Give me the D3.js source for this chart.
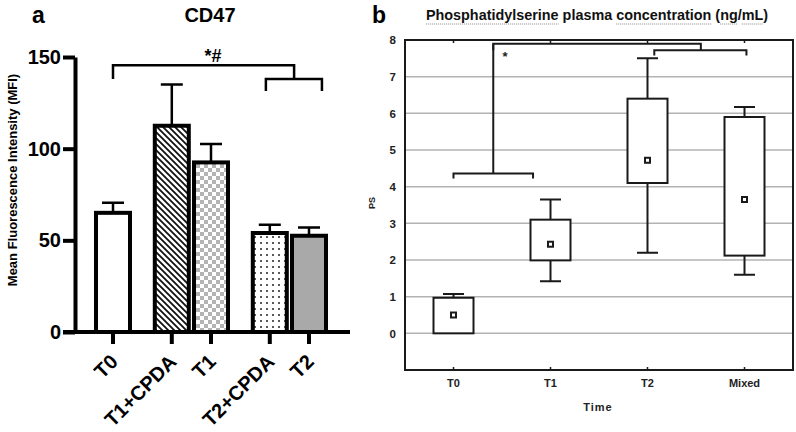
<!DOCTYPE html>
<html>
<head>
<meta charset="utf-8">
<script src="https://cdn.jsdelivr.net/npm/d3@7"></script>
<style>
  body { margin: 0; background: #fff; }
  svg { display: block; }
  text { font-family: "Liberation Sans", Arial, sans-serif; }
</style>
</head>
<body>
<script>
// panel a: CD47 bar chart
var barCats = ["T0", "T1+CPDA", "T1", "T2+CPDA", "T2"];
var barSlots = [0, 1.5, 2.5, 4, 5]; // grouped spacing along x
var barMeans = [65, 112.5, 92.5, 54, 52.5];
var barErr = [70.5, 135, 102.5, 58.5, 57];
var barFills = ["white", "url(#hatch)", "url(#checker)", "url(#dots)", "#a9a9a9"];
var barTicks = [0, 50, 100, 150];

// panel a significance brackets: [slotFrom, slotTo, level, dropTo]
var barBrackets = [[0, 4.62, 145.5, 138], [3.9, 5.33, 138, 131.5]];

// panel b: PS box plot
var boxCats = ["T0", "T1", "T2", "Mixed"];
var boxMin = [0, 1.42, 2.2, 1.6];
var boxQ1 = [0, 1.99, 4.1, 2.12];
var boxMean = [0.5, 2.43, 4.72, 3.65];
var boxQ3 = [0.97, 3.1, 6.4, 5.9];
var boxMax = [1.07, 3.65, 7.5, 6.17];
var psTicks = [0, 1, 2, 3, 4, 5, 6, 7, 8];

// panel b brackets in category index units: [from, to, level, dropTo]
var boxBrackets = [[0, 0.82, 4.36, 4.22], [0.41, 2.55, 7.9, 7.72], [2.07, 3.02, 7.72, 7.58]];

var width = 796, height = 432;

var svg = d3.select("body")
    .append("svg")
    .attr("width", width)
    .attr("height", height);

//patterns for the bars
var defs = svg.append("defs");
var hatch = defs.append("pattern")
    .attr("id", "hatch")
    .attr("patternUnits", "userSpaceOnUse")
    .attr("width", 6).attr("height", 6);
hatch.append("rect").attr("width", 6).attr("height", 6).attr("fill", "white");
hatch.append("path")
    .attr("d", "M-1,-1 L7,7 M-1,5 L1,7 M5,-1 L7,1")
    .attr("stroke", "#111").attr("stroke-width", 1.8);

var checker = defs.append("pattern")
    .attr("id", "checker")
    .attr("patternUnits", "userSpaceOnUse")
    .attr("width", 8).attr("height", 8);
checker.append("rect").attr("width", 8).attr("height", 8).attr("fill", "white");
checker.append("rect").attr("width", 4).attr("height", 4).attr("fill", "#b4b4b4");
checker.append("rect").attr("x", 4).attr("y", 4).attr("width", 4).attr("height", 4).attr("fill", "#b4b4b4");

var dots = defs.append("pattern")
    .attr("id", "dots")
    .attr("patternUnits", "userSpaceOnUse")
    .attr("width", 6).attr("height", 6);
dots.append("rect").attr("width", 6).attr("height", 6).attr("fill", "white");
dots.append("circle").attr("cx", 3).attr("cy", 3).attr("r", 1).attr("fill", "#222");

// ---------- panel a ----------
var ga = svg.append("g").attr("class", "panelA");

var yA = d3.scaleLinear().domain([0, 150]).range([332, 57]);
var xA = d3.scaleLinear().domain([0, 5]).range([113, 309]);
var barW = 34;

ga.append("text")
    .attr("x", 32).attr("y", 23)
    .attr("font-size", 23).attr("font-weight", "bold")
    .text("a");

ga.append("text")
    .attr("x", 210).attr("y", 22)
    .attr("text-anchor", "middle")
    .attr("font-size", 20).attr("font-weight", "bold")
    .text("CD47");

ga.selectAll(".bar")
    .data(barMeans)
    .enter()
    .append("rect")
    .attr("class", "bar")
    .attr("x", function(d, i){ return xA(barSlots[i]) - barW / 2; })
    .attr("y", function(d){ return yA(d); })
    .attr("width", barW)
    .attr("height", function(d){ return yA(0) - yA(d); })
    .attr("fill", function(d, i){ return barFills[i]; })
    .attr("stroke", "black")
    .attr("stroke-width", 4);

//upper error whiskers
ga.selectAll(".err")
    .data(barErr)
    .enter()
    .append("path")
    .attr("class", "err")
    .attr("d", function(d, i){
        var x = xA(barSlots[i]);
        return "M" + x + "," + yA(barMeans[i]) + "V" + yA(d) + "M" + (x - 11) + "," + yA(d) + "H" + (x + 11);
    })
    .attr("fill", "none")
    .attr("stroke", "black")
    .attr("stroke-width", 2.5);

var yAxisA = ga.append("g")
    .attr("transform", "translate(75,0)")
    .call(d3.axisLeft(yA).tickValues(barTicks).tickSize(12).tickSizeOuter(0).tickPadding(2));
yAxisA.selectAll("path, line").attr("stroke", "black").attr("stroke-width", 4);
yAxisA.selectAll("text")
    .attr("font-size", 20).attr("font-weight", "bold")
    .attr("font-family", "Liberation Sans, Arial, sans-serif")
    .attr("fill", "black");

//x axis line runs a tick length left of the y axis
ga.append("line")
    .attr("x1", 63).attr("x2", 350)
    .attr("y1", yA(0)).attr("y2", yA(0))
    .attr("stroke", "black").attr("stroke-width", 4);

ga.selectAll(".xtick")
    .data(barSlots)
    .enter()
    .append("line")
    .attr("class", "xtick")
    .attr("x1", function(d){ return xA(d); })
    .attr("x2", function(d){ return xA(d); })
    .attr("y1", yA(0)).attr("y2", yA(0) + 12)
    .attr("stroke", "black").attr("stroke-width", 4);

ga.selectAll(".xlab")
    .data(barCats)
    .enter()
    .append("text")
    .attr("class", "xlab")
    .attr("text-anchor", "end")
    .attr("font-size", 20).attr("font-weight", "bold")
    .attr("transform", function(d, i){
        return "translate(" + (xA(barSlots[i]) + 6) + "," + (yA(0) + 31) + ") rotate(-45)";
    })
    .text(function(d){ return d; });

ga.append("text")
    .attr("transform", "translate(17,180) rotate(-90)")
    .attr("text-anchor", "middle")
    .attr("font-size", 13).attr("font-weight", "bold")
    .text("Mean Fluorescence Intensity (MFI)");

ga.selectAll(".brk")
    .data(barBrackets)
    .enter()
    .append("path")
    .attr("class", "brk")
    .attr("d", function(d){
        return "M" + xA(d[0]) + "," + yA(d[3]) + "V" + yA(d[2]) + "H" + xA(d[1]) + "V" + yA(d[3]);
    })
    .attr("fill", "none")
    .attr("stroke", "black")
    .attr("stroke-width", 2.5);

ga.append("text")
    .attr("x", xA(2.55)).attr("y", 62)
    .attr("text-anchor", "middle")
    .attr("font-size", 18).attr("font-weight", "bold")
    .text("*#");

// ---------- panel b ----------
var gb = svg.append("g").attr("class", "panelB");

var bLeft = 405, bRight = 793, bTop = 40, bBottom = 370;
var yB = d3.scaleLinear().domain([-1, 8]).range([bBottom, bTop]);
var xB = d3.scaleBand().domain(boxCats).range([bLeft, bRight]).padding(0);
var xIdx = d3.scaleLinear().domain([0, 1]).range([xB(boxCats[0]) + xB.bandwidth() / 2, xB(boxCats[1]) + xB.bandwidth() / 2]);
var boxW = 40, capW = 21;
var ink = "#1a1a1a";

gb.append("text")
    .attr("x", 372).attr("y", 23)
    .attr("font-size", 23).attr("font-weight", "bold")
    .text("b");

var tStr = "Phosphatidylserine plasma concentration (ng/mL)";
var title = gb.append("text")
    .attr("x", 597).attr("y", 20)
    .attr("text-anchor", "middle")
    .attr("font-family", "Lato, 'Open Sans', sans-serif")
    .attr("font-size", 14.4).attr("font-weight", "bold")
    .attr("fill", "#111")
    .text(tStr);

//dotted spell-check style underlines
var tNode = title.node();
["Phosphatidylserine", "concentration", "ng", "mL"].forEach(function(w){
    var idx = tStr.indexOf(w);
    var x0 = tNode.getStartPositionOfChar(idx).x;
    var x1 = x0 + tNode.getSubStringLength(idx, w.length);
    gb.append("line")
        .attr("x1", x0).attr("x2", x1)
        .attr("y1", 24).attr("y2", 24)
        .attr("stroke", "#8a8a8a").attr("stroke-width", 1)
        .attr("stroke-dasharray", "1,1");
});

gb.selectAll(".grid")
    .data(psTicks.slice(0, -1))
    .enter()
    .append("line")
    .attr("class", "grid")
    .attr("x1", bLeft).attr("x2", bRight)
    .attr("y1", function(d){ return yB(d); })
    .attr("y2", function(d){ return yB(d); })
    .attr("stroke", "#b3b3b3").attr("stroke-width", 1.5);

gb.append("rect")
    .attr("x", bLeft).attr("y", bTop)
    .attr("width", bRight - bLeft).attr("height", bBottom - bTop)
    .attr("fill", "none")
    .attr("stroke", ink).attr("stroke-width", 2);

//small inner ticks top and bottom
boxCats.forEach(function(c){
    var cx = xB(c) + xB.bandwidth() / 2;
    gb.append("path")
        .attr("d", "M" + cx + "," + bTop + "v3M" + cx + "," + bBottom + "v-3")
        .attr("stroke", ink).attr("stroke-width", 1.5);
});

var yAxisB = gb.append("g")
    .attr("transform", "translate(" + bLeft + ",0)")
    .call(d3.axisLeft(yB).tickValues(psTicks).tickSize(0).tickPadding(9));
yAxisB.select(".domain").remove();
yAxisB.selectAll("text")
    .attr("font-size", 11.5).attr("font-weight", "bold")
    .attr("font-family", "Liberation Sans, Arial, sans-serif")
    .attr("fill", "#222");

var xAxisB = gb.append("g")
    .attr("transform", "translate(0," + bBottom + ")")
    .call(d3.axisBottom(xB).tickSize(0).tickPadding(9));
xAxisB.select(".domain").remove();
xAxisB.selectAll("text")
    .attr("font-size", 11).attr("font-weight", "bold")
    .attr("font-family", "Liberation Sans, Arial, sans-serif")
    .attr("fill", "#222");

gb.append("text")
    .attr("x", 598).attr("y", 411)
    .attr("text-anchor", "middle")
    .attr("font-size", 11).attr("font-weight", "bold")
    .attr("letter-spacing", 1)
    .attr("fill", "#222")
    .text("Time");

gb.append("text")
    .attr("transform", "translate(375,203) rotate(-90)")
    .attr("text-anchor", "middle")
    .attr("font-size", 9).attr("font-weight", "bold")
    .attr("fill", "#222")
    .text("PS");

//boxes with whiskers and mean markers
var boxes = gb.selectAll(".box")
    .data(boxCats)
    .enter()
    .append("g")
    .attr("class", "box")
    .attr("transform", function(d){ return "translate(" + (xB(d) + xB.bandwidth() / 2) + ",0)"; });

boxes.append("path")
    .attr("d", function(d, i){
        return "M0," + yB(boxMax[i]) + "V" + yB(boxMin[i]) +
            "M" + (-capW / 2) + "," + yB(boxMax[i]) + "H" + (capW / 2) +
            (boxMin[i] < boxQ1[i] ? "M" + (-capW / 2) + "," + yB(boxMin[i]) + "H" + (capW / 2) : "");
    })
    .attr("fill", "none")
    .attr("stroke", ink).attr("stroke-width", 2);

boxes.append("rect")
    .attr("x", -boxW / 2)
    .attr("y", function(d, i){ return yB(boxQ3[i]); })
    .attr("width", boxW)
    .attr("height", function(d, i){ return yB(boxQ1[i]) - yB(boxQ3[i]); })
    .attr("fill", "white")
    .attr("stroke", ink).attr("stroke-width", 2);

boxes.append("rect")
    .attr("x", -2.5)
    .attr("y", function(d, i){ return yB(boxMean[i]) - 2.5; })
    .attr("width", 5).attr("height", 5)
    .attr("fill", "white")
    .attr("stroke", ink).attr("stroke-width", 2);

gb.selectAll(".brk")
    .data(boxBrackets)
    .enter()
    .append("path")
    .attr("class", "brk")
    .attr("d", function(d){
        return "M" + xIdx(d[0]) + "," + yB(d[3]) + "V" + yB(d[2]) + "H" + xIdx(d[1]) + "V" + yB(d[3]);
    })
    .attr("fill", "none")
    .attr("stroke", ink).attr("stroke-width", 2);

//centre stem of lower bracket rises to the top bracket
gb.append("line")
    .attr("x1", xIdx(0.41)).attr("x2", xIdx(0.41))
    .attr("y1", yB(boxBrackets[0][2])).attr("y2", yB(boxBrackets[1][2]))
    .attr("stroke", ink).attr("stroke-width", 2);

gb.append("text")
    .attr("x", xIdx(0.53)).attr("y", yB(7.42))
    .attr("text-anchor", "middle")
    .attr("font-size", 13).attr("font-weight", "bold")
    .attr("fill", "#222")
    .text("*");
</script>
</body>
</html>
